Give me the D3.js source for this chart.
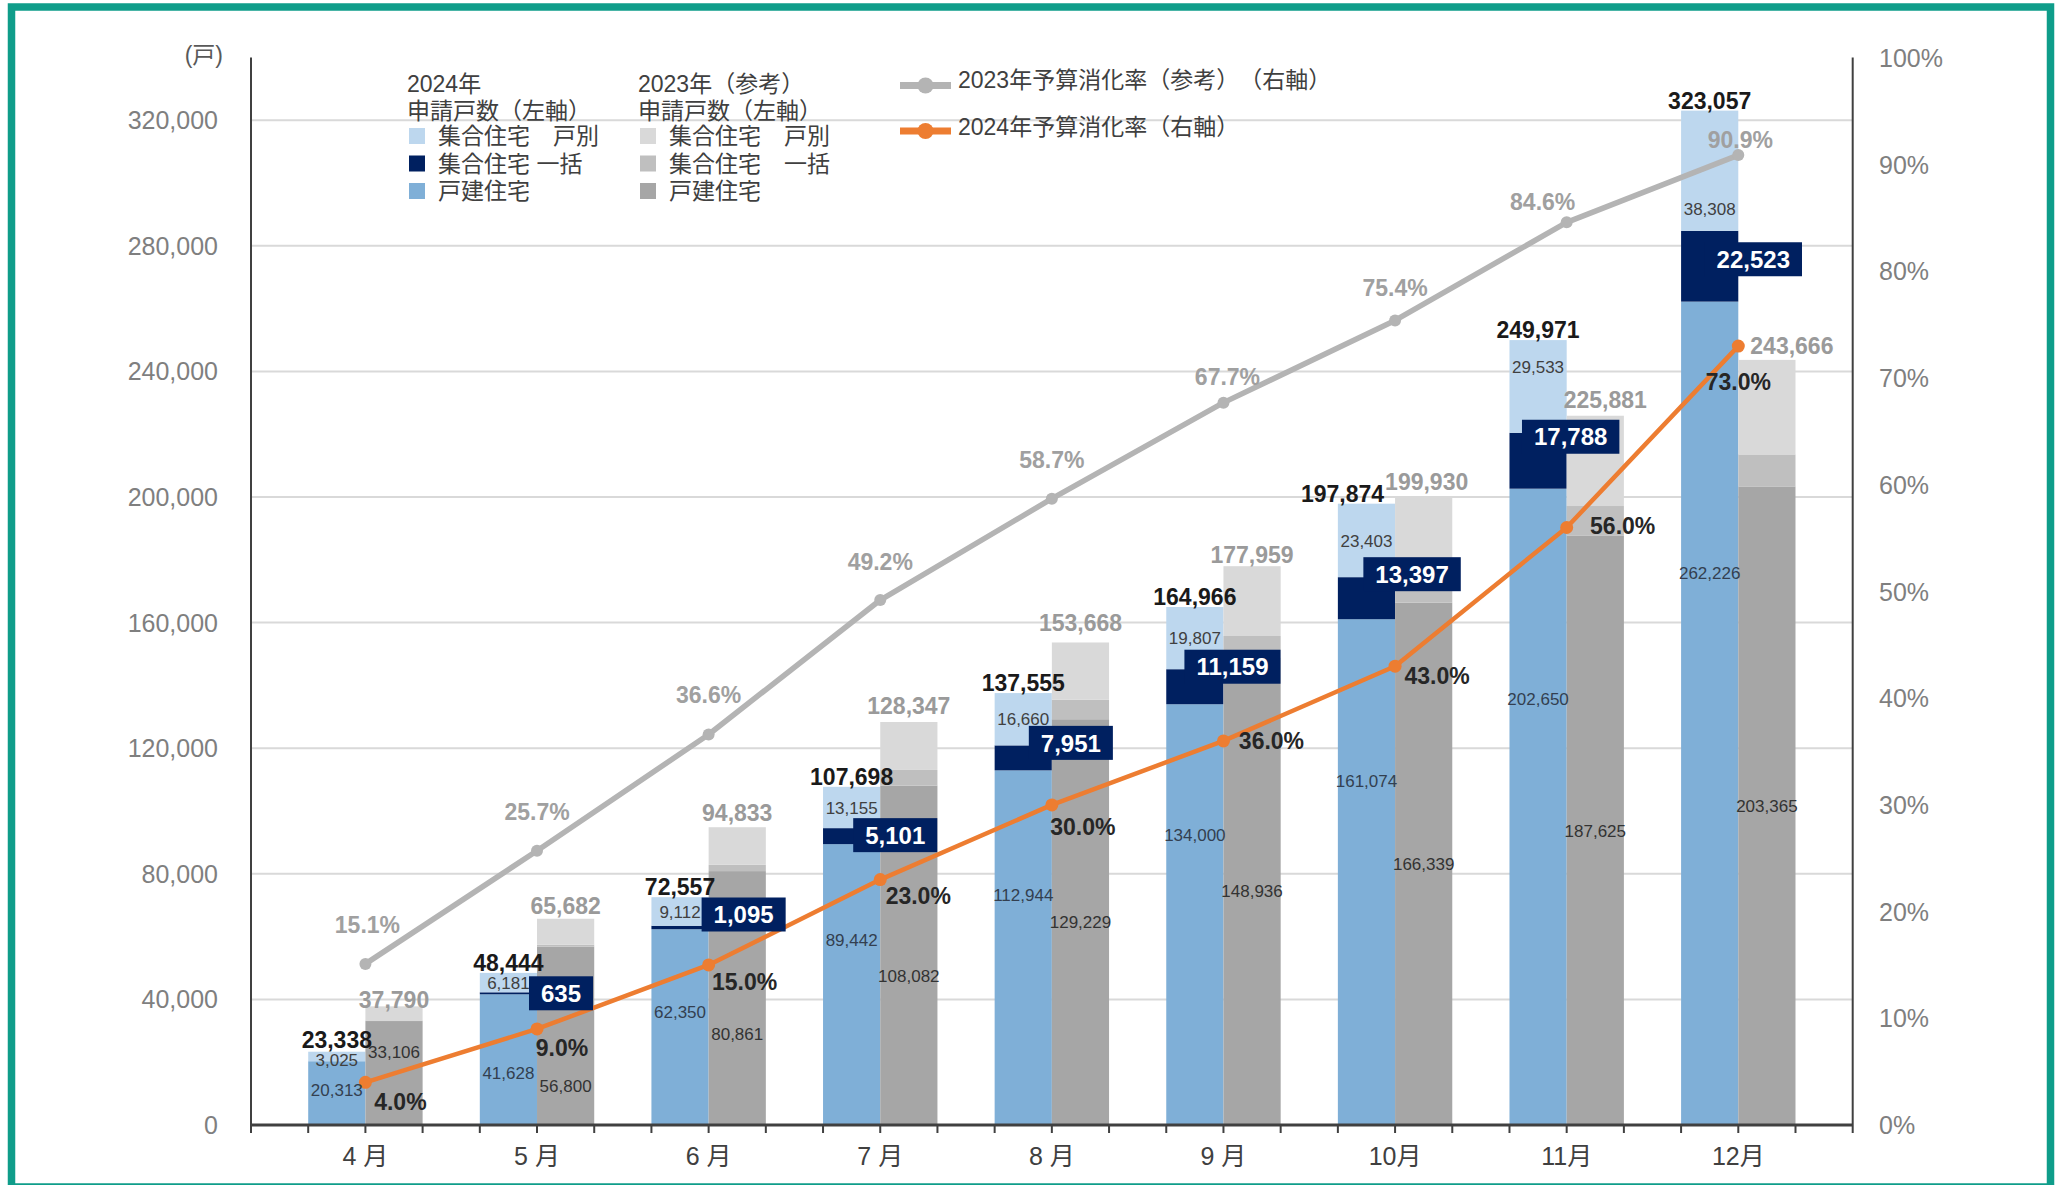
<!DOCTYPE html>
<html><head><meta charset="utf-8">
<script src="https://cdn.jsdelivr.net/npm/d3@7"></script>
<style>
html,body{margin:0;padding:0;background:#fff;}
svg{display:block;}
text{font-family:"Liberation Sans","Noto Sans CJK JP",sans-serif;}
</style></head>
<body>
<svg id="chart" width="2063" height="1185"></svg>
<script>
// ---------- data ----------
const months = ["4 月","5 月","6 月","7 月","8 月","9 月","10月","11月","12月"];
const detached2024   = [20313,41628,62350,89442,112944,134000,161074,202650,262226];
const bulk2024       = [0,635,1095,5101,7951,11159,13397,17788,22523];
const individual2024 = [3025,6181,9112,13155,16660,19807,23403,29533,38308];
const total2024      = [23338,48444,72557,107698,137555,164966,197874,249971,323057];
const detached2023   = [33106,56800,80861,108082,129229,148936,166339,187625,203365];
const bulk2023       = [200,600,2000,5000,6200,6800,8500,9500,10200];
const individual2023 = [4484,8282,11972,15265,18239,22223,25091,28756,30101];
const total2023      = [37790,65682,94833,128347,153668,177959,199930,225881,243666];
const rate2023 = [15.1,25.7,36.6,49.2,58.7,67.7,75.4,84.6,90.9];
const rate2024 = [4.0,9.0,15.0,23.0,30.0,36.0,43.0,56.0,73.0];
const leftTicks  = [0,40000,80000,120000,160000,200000,240000,280000,320000];
const rightTicks = [0,10,20,30,40,50,60,70,80,90,100];

// ---------- label layout nudges (pixels / fractions) ----------
const det24Frac = [0.55,0.40,0.58,0.66,0.65,0.69,0.68,0.67,0.67];
const det23Frac = [0.70,0.22,0.36,0.44,0.50,0.50,0.50,0.50,0.50];
const ind24Dy   = [3,0,0,0,0,0,0,-20,38];
const tot24Dx   = [0,0,0,0,0,0,-24,0,0];
const tot24Dy   = [-2,0,0,0,0,0,0,0,0];
const tot23Dx   = [0,0,0,0,0,0,3,10,25];
const tot23Dy   = [5,-2,-3.6,-5,-8,0,-4,-5,-3];
const boxDx     = [0,24,35,15,19,9,17,4,15];
const boxDy     = [0,0,-13,-1,-15,-20,-24,-24,-7];
const r23Dx = [2,0,0,0,0,4,0,-24,2];
const r23Dy = [-39,-39,-40,-38,-39,-26,-33,-21,-15];
const r24Dx = [35,25,36,38,31,48,42,56,0];
const r24Dy = [19,19,17,16,22,0,10,-2,36];

// ---------- colors ----------
const C = {
  ind24:"#bdd7ee", bulk24:"#002060", det24:"#7fafd7",
  ind23:"#d9d9d9", bulk23:"#bfbfbf", det23:"#a6a6a6",
  line23:"#b4b4b4", line24:"#ed7d31", grid:"#d9d9d9", axis:"#404040"
};

const svg = d3.select("#chart");
const L = 251, R = 1852.7, B = 1125, T = 57.4;

const x = d3.scaleBand().domain(months).range([L,R]).paddingInner(0).paddingOuter(1/6);
const w = x.step()/3;
const cx = m => x(m) + x.bandwidth()/2;
const y = d3.scaleLinear().domain([0,340000]).range([B,T]);
const yr = d3.scaleLinear().domain([0,100]).range([B,T+0.6]);

// border
svg.append("rect").attr("x",11.5).attr("y",7).attr("width",2039).attr("height",1180)
  .attr("fill","none").attr("stroke","#0f9d8a").attr("stroke-width",7.5);

// gridlines
svg.append("g").selectAll("line").data(leftTicks.filter(d=>d>0)).join("line")
  .attr("x1",L).attr("x2",R).attr("y1",d=>y(d)).attr("y2",d=>y(d))
  .attr("stroke",C.grid).attr("stroke-width",2);

// left axis labels
svg.append("g").selectAll("text").data(leftTicks).join("text")
  .attr("x",218).attr("y",d=>y(d)).attr("dy","0.36em").attr("text-anchor","end")
  .attr("font-size",25).attr("fill","#7f7f7f").text(d=>d3.format(",")(d));
// right axis labels
svg.append("g").selectAll("text").data(rightTicks).join("text")
  .attr("x",1879).attr("y",d=>yr(d)).attr("dy","0.36em").attr("text-anchor","start")
  .attr("font-size",25).attr("fill","#7f7f7f").text(d=>d+"%");
// unit
svg.append("text").attr("x",223).attr("y",55).attr("dy","0.36em").attr("text-anchor","end")
  .attr("font-size",23).attr("fill","#595959").text("(戸)");

// ---------- bars ----------
const idx = d3.range(months.length);
const stack24 = idx.map(i=>[
  {v0:0, v1:detached2024[i], c:C.det24},
  {v0:detached2024[i], v1:detached2024[i]+bulk2024[i], c:C.bulk24},
  {v0:detached2024[i]+bulk2024[i], v1:detached2024[i]+bulk2024[i]+individual2024[i], c:C.ind24}
].map(s=>({...s,i})));
const stack23 = idx.map(i=>[
  {v0:0, v1:detached2023[i], c:C.det23},
  {v0:detached2023[i], v1:detached2023[i]+bulk2023[i], c:C.bulk23},
  {v0:detached2023[i]+bulk2023[i], v1:detached2023[i]+bulk2023[i]+individual2023[i], c:C.ind23}
].map(s=>({...s,i})));

const gBars = svg.append("g");
gBars.selectAll("rect.b24").data(stack24.flat()).join("rect").attr("class","b24")
  .attr("x",d=>cx(months[d.i])-w).attr("width",w)
  .attr("y",d=>y(d.v1)).attr("height",d=>y(d.v0)-y(d.v1)).attr("fill",d=>d.c);
gBars.selectAll("rect.b23").data(stack23.flat()).join("rect").attr("class","b23")
  .attr("x",d=>cx(months[d.i])).attr("width",w)
  .attr("y",d=>y(d.v1)).attr("height",d=>y(d.v0)-y(d.v1)).attr("fill",d=>d.c);

// ---------- axes lines ----------
const gAx = svg.append("g").attr("stroke",C.axis);
gAx.append("line").attr("x1",L).attr("x2",L).attr("y1",T).attr("y2",B).attr("stroke-width",2);
gAx.append("line").attr("x1",R).attr("x2",R).attr("y1",T).attr("y2",B).attr("stroke-width",2);
gAx.append("line").attr("x1",L).attr("x2",R).attr("y1",B).attr("y2",B).attr("stroke-width",3);
const tickXs = [L, ...months.flatMap(m=>[cx(m)-w, cx(m), cx(m)+w]), R];
gAx.selectAll("line.t").data(tickXs).join("line").attr("class","t")
  .attr("x1",d=>d).attr("x2",d=>d).attr("y1",B).attr("y2",B+8).attr("stroke-width",2);
svg.append("g").selectAll("text").data(months).join("text")
  .attr("x",d=>cx(d)).attr("y",1156).attr("dy","0.36em").attr("text-anchor","middle")
  .attr("font-size",25).attr("fill","#404040").text(d=>d);

// ---------- lines ----------
const lineGen = d3.line().x((d,i)=>cx(months[i])).y(d=>yr(d));
svg.append("path").attr("d",lineGen(rate2023)).attr("fill","none")
  .attr("stroke",C.line23).attr("stroke-width",5.5).attr("stroke-linejoin","round");
svg.append("g").selectAll("circle").data(rate2023).join("circle")
  .attr("cx",(d,i)=>cx(months[i])).attr("cy",d=>yr(d)).attr("r",6).attr("fill",C.line23);
svg.append("path").attr("d",lineGen(rate2024)).attr("fill","none")
  .attr("stroke",C.line24).attr("stroke-width",4.5).attr("stroke-linejoin","round");
svg.append("g").selectAll("circle").data(rate2024).join("circle")
  .attr("cx",(d,i)=>cx(months[i])).attr("cy",d=>yr(d)).attr("r",6.5).attr("fill",C.line24);

// ---------- labels ----------
const gL = svg.append("g");
const fmt = d3.format(",");
// 2024 detached
gL.selectAll("text.d24").data(idx).join("text").attr("class","d24")
  .attr("x",i=>cx(months[i])-w/2).attr("y",i=>y(detached2024[i]*det24Frac[i]))
  .attr("dy","0.36em").attr("text-anchor","middle").attr("font-size",17)
  .attr("fill","#333f50").text(i=>fmt(detached2024[i]));
// 2024 individual
gL.selectAll("text.i24").data(idx).join("text").attr("class","i24")
  .attr("x",i=>cx(months[i])-w/2)
  .attr("y",i=>y(detached2024[i]+bulk2024[i]+individual2024[i]/2)+ind24Dy[i])
  .attr("dy","0.36em").attr("text-anchor","middle").attr("font-size",17)
  .attr("fill","#404040").text(i=>fmt(individual2024[i]));
// 2023 detached
gL.selectAll("text.d23").data(idx).join("text").attr("class","d23")
  .attr("x",i=>cx(months[i])+w/2).attr("y",i=>y(detached2023[i]*det23Frac[i]))
  .attr("dy","0.36em").attr("text-anchor","middle").attr("font-size",17)
  .attr("fill","#333333").text(i=>fmt(detached2023[i]));
// 2023 totals
gL.selectAll("text.t23").data(idx).join("text").attr("class","t23")
  .attr("x",i=>cx(months[i])+w/2+tot23Dx[i]).attr("y",i=>y(total2023[i])-3+tot23Dy[i])
  .attr("text-anchor","middle").attr("font-size",23).attr("font-weight","bold")
  .attr("fill","#9a9a9a").text(i=>fmt(total2023[i]));
// 2024 totals
gL.selectAll("text.t24").data(idx).join("text").attr("class","t24")
  .attr("x",i=>cx(months[i])-w/2+tot24Dx[i]).attr("y",i=>y(total2024[i])-2+tot24Dy[i])
  .attr("text-anchor","middle").attr("font-size",23).attr("font-weight","bold")
  .attr("fill","#1a1a1a").text(i=>fmt(total2024[i]));
// 2024 bulk boxes
const boxIdx = idx.filter(i=>bulk2024[i]>0);
const bg = gL.selectAll("g.box").data(boxIdx).join("g").attr("class","box");
bg.each(function(i){
  const g = d3.select(this);
  const bx = cx(months[i]) + boxDx[i];
  const by = y(detached2024[i]+bulk2024[i]/2) + boxDy[i];
  const t = g.append("text").attr("x",bx).attr("y",by).attr("dy","0.36em")
    .attr("text-anchor","middle").attr("font-size",24).attr("font-weight","bold")
    .attr("fill","#fff").text(fmt(bulk2024[i]));
  const tw = t.node().getComputedTextLength();
  g.insert("rect","text").attr("x",bx-tw/2-12).attr("width",tw+24)
    .attr("y",by-17).attr("height",34).attr("fill",C.bulk24);
});
// rate labels
gL.selectAll("text.r23").data(idx).join("text").attr("class","r23")
  .attr("x",i=>cx(months[i])+r23Dx[i]).attr("y",i=>yr(rate2023[i])+r23Dy[i])
  .attr("dy","0.36em").attr("text-anchor","middle").attr("font-size",23).attr("font-weight","bold")
  .attr("fill","#a0a0a0").text(i=>rate2023[i].toFixed(1)+"%");
gL.selectAll("text.r24").data(idx).join("text").attr("class","r24")
  .attr("x",i=>cx(months[i])+r24Dx[i]).attr("y",i=>yr(rate2024[i])+r24Dy[i])
  .attr("dy","0.36em").attr("text-anchor","middle").attr("font-size",23).attr("font-weight","bold")
  .attr("fill","#262626").text(i=>rate2024[i].toFixed(1)+"%");

// ---------- legend ----------
const lg = svg.append("g").attr("font-size",23).attr("fill","#404040");
const legCols = [
  {x:407, head:["2024年","申請戸数（左軸）"], items:[["集合住宅　戸別",C.ind24],["集合住宅 一括",C.bulk24],["戸建住宅",C.det24]]},
  {x:638, head:["2023年（参考）","申請戸数（左軸）"], items:[["集合住宅　戸別",C.ind23],["集合住宅　一括",C.bulk23],["戸建住宅",C.det23]]}
];
legCols.forEach(col=>{
  lg.append("text").attr("x",col.x).attr("y",92).text(col.head[0]);
  lg.append("text").attr("x",col.x).attr("y",119).text(col.head[1]);
  col.items.forEach((it,k)=>{
    const cy = 136 + k*27.5;
    lg.append("rect").attr("x",col.x+2).attr("y",cy-8).attr("width",16).attr("height",16).attr("fill",it[1]);
    lg.append("text").attr("x",col.x+31).attr("y",cy).attr("dy","0.36em").text(it[0]);
  });
});
[["2023年予算消化率（参考）　（右軸）",C.line23,85.5,80],["2024年予算消化率（右軸）",C.line24,131,126.5]].forEach(d=>{
  lg.append("line").attr("x1",900).attr("x2",951).attr("y1",d[2]).attr("y2",d[2])
    .attr("stroke",d[1]).attr("stroke-width",7);
  lg.append("circle").attr("cx",925.5).attr("cy",d[2]).attr("r",8).attr("fill",d[1]);
  lg.append("text").attr("x",958).attr("y",d[3]).attr("dy","0.36em").text(d[0]);
});
</script>
</body></html>
